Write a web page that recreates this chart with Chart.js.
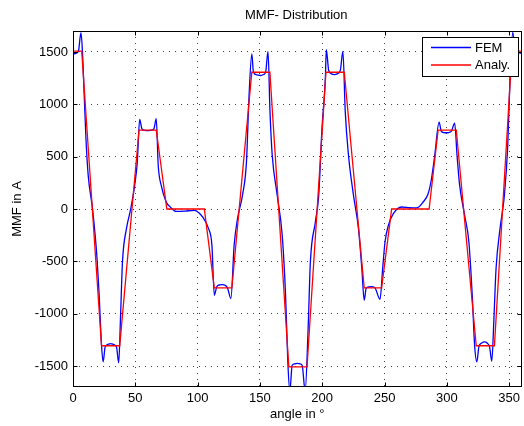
<!DOCTYPE html>
<html>
<head>
<meta charset="utf-8">
<title>MMF- Distribution</title>
<script src="https://cdn.jsdelivr.net/npm/chart.js@4.4.0/dist/chart.umd.min.js"></script>
<style>
  html, body { margin: 0; padding: 0; background: #fff; }
  #wrap { position: relative; width: 524px; height: 426px; }
</style>
</head>
<body>
<div id="wrap"><canvas id="mmf" width="524" height="426"></canvas></div>
<script>
// FEM result, angle in degrees / MMF in A
var femAngle = [0, 2, 4.3, 6.4, 7.6, 9, 10.4, 12.2, 15.7, 18.9, 21, 22.9, 24.2, 25.8, 28, 30.1, 32.5, 34.9, 36.7,
  38.1, 39.7, 42.9, 46.3, 49.5, 51.6, 53.5, 55.3, 57.5, 60.1, 62.5, 64.9, 66.8, 68.4, 70.8, 74.8, 78, 82.8, 90,
  97.4, 101, 104, 108.8, 111.5, 113.4, 115.5, 118, 120, 122, 124, 126.7, 129.3, 132, 136, 139.2, 141.3, 143.5,
  144.8, 147.5, 150.6, 153, 154.6, 156.5, 158.1, 159.9, 163.9, 167.9, 170.6, 172.4, 174, 175.9, 178, 180, 182,
  183.9, 186.3, 188.7, 190.5, 194.5, 197.2, 199.8, 202.5, 203.3, 205.2, 207.5, 209.7, 212, 214.5, 216.6, 218.5,
  221.1, 225.1, 229.1, 231.8, 233.7, 235.2, 237.1, 240, 242.4, 246.4, 248.5, 250.4, 253.1, 257.1, 263.7, 270,
  275.7, 281, 285, 287.7, 290.3, 293.8, 295.6, 297.5, 299.6, 301.5, 303.6, 306.3, 308.2, 310.3, 314.3, 317.7,
  320.4, 322.3, 324.1, 325.7, 328, 330.3, 332.3, 334.3, 336.1, 337.7, 339.5, 342.7, 346.2, 348.9, 350.7, 352.9,
  355, 358.2, 360];
var femValue = [1482, 1485, 1504, 1685, 1500, 1084, 671, 321, 0, -410, -824, -1301, -1460, -1317, -1293, -1285, -1293, -1317, -1470,
  -1047, -506, -188, 0, 225, 448, 855, 766, 752, 748, 752, 766, 862, 416, 225, 67, 20, -23, -20,
  -13, -35, -76, -188, -347, -824, -738, -725, -722, -728, -754, -856, -347, -93, 130, 448, 1084, 1482,
  1307, 1282, 1275, 1285, 1307, 1504, 925, 511, 130, -252, -824, -1460, -1740, -1492, -1478, -1474, -1478,
  -1492, -1740, -1142, -506, -124, 130, 766, 1243, 1523, 1323, 1290, 1284, 1290, 1323, 1504, 925,
  511, 130, -188, -570, -872, -760, -745, -742, -754, -862, -570, -315, -156, -45, 19, 12,
  10, 67, 146, 289, 511, 830, 741, 730, 728, 730, 741, 821, 511, 225, -61, -315,
  -824, -1301, -1460, -1317, -1280, -1269, -1280, -1317, -1454, -1078, -570, -188, 130, 607, 1243, 1690,
  1498, 1491, 1485];

// analytical solution
var anaAngle = [0, 7, 22.9, 37.5, 53, 66.8, 75.3, 105.4, 113.4, 127.5, 143.5, 158, 173.2, 187.8, 203, 217.7,
  233.7, 247.7, 255.7, 285.8, 293, 307.6, 323.6, 338.2, 352.3, 360];
var anaValue = [1508, 1508, -1306, -1306, 754, 754, 0, 0, -754, -754, 1306, 1306, -1508, -1508, 1306, 1306,
  -754, -754, 0, 0, 754, 754, -1306, -1306, 1508, 1508];

var seriesNames = ['FEM', 'Analy.'];
var xTicks = [0, 50, 100, 150, 200, 250, 300, 350];
var yTicks = [-1500, -1000, -500, 0, 500, 1000, 1500];
var xRange = [0, 360];
var yRange = [-1700, 1700];

function toPoints(xs, ys) {
  var pts = [];
  for (var i = 0; i < xs.length; i++) {
    pts.push({ x: xs[i], y: ys[i] });
  }
  return pts;
}

function fixedTicks(list) {
  return function (scale) {
    scale.ticks = list.map(function (v) { return { value: v }; });
  };
}

var FONT = 'Liberation Sans, Arial, Helvetica, sans-serif';

// box, inward ticks, title and legend, drawn the matlab way
var matlabAxes = {
  id: 'matlabAxes',
  afterDraw: function (chart) {
    var ctx = chart.ctx;
    var a = chart.chartArea;
    var l = Math.round(a.left) + 0.5, r = Math.round(a.right) - 0.5;
    var t = Math.round(a.top) + 0.5, b = Math.round(a.bottom) - 0.5;
    var tl = 4;

    ctx.save();
    ctx.strokeStyle = '#000';
    ctx.lineWidth = 1;
    ctx.setLineDash([]);

    ctx.beginPath();
    chart.scales.x.ticks.forEach(function (tk) {
      var px = Math.round(chart.scales.x.getPixelForValue(tk.value)) + 0.5;
      ctx.moveTo(px, b); ctx.lineTo(px, b - tl);
      ctx.moveTo(px, t); ctx.lineTo(px, t + tl);
    });
    chart.scales.y.ticks.forEach(function (tk) {
      var py = Math.round(chart.scales.y.getPixelForValue(tk.value)) + 0.5;
      ctx.moveTo(l, py); ctx.lineTo(l + tl, py);
      ctx.moveTo(r, py); ctx.lineTo(r - tl, py);
    });
    ctx.stroke();

    ctx.strokeRect(l, t, r - l, b - t);

    // title
    ctx.fillStyle = '#000';
    ctx.font = '13px ' + FONT;
    ctx.textAlign = 'center';
    ctx.textBaseline = 'middle';
    ctx.fillText('MMF- Distribution', (a.left + a.right) / 2 - 1, 15);

    // legend box
    var lx = 422.5, ly = 37.5, lw = 96, lh = 39;
    ctx.fillStyle = '#fff';
    ctx.fillRect(lx, ly, lw, lh);
    ctx.strokeStyle = '#000';
    ctx.strokeRect(lx, ly, lw, lh);

    var rows = [47.5, 65];
    chart.data.datasets.forEach(function (ds, i) {
      ctx.strokeStyle = ds.borderColor;
      ctx.lineWidth = 1.3;
      ctx.beginPath();
      ctx.moveTo(431, rows[i]);
      ctx.lineTo(471, rows[i]);
      ctx.stroke();
      ctx.fillStyle = '#000';
      ctx.textAlign = 'left';
      ctx.fillText(ds.label, 475, rows[i] + 0.5);
    });
    ctx.restore();
  }
};

var gridStyle = { color: 'rgba(0,0,0,0.75)', lineWidth: 1, drawTicks: false };
var borderStyle = { display: false, dash: [1, 5] };

new Chart(document.getElementById('mmf'), {
  type: 'line',
  data: {
    datasets: [
      {
        label: seriesNames[0],
        data: toPoints(femAngle, femValue),
        borderColor: '#0000ff',
        borderWidth: 1.3,
        pointRadius: 0,
        cubicInterpolationMode: 'monotone',
        order: 2
      },
      {
        label: seriesNames[1],
        data: toPoints(anaAngle, anaValue),
        borderColor: '#ff0000',
        borderWidth: 1.3,
        pointRadius: 0,
        tension: 0,
        order: 1
      }
    ]
  },
  options: {
    responsive: false,
    animation: false,
    devicePixelRatio: 1,
    layout: { padding: { top: 31, right: 1, left: 0, bottom: 0 } },
    plugins: {
      legend: { display: false },
      title: { display: false },
      tooltip: { enabled: false }
    },
    scales: {
      x: {
        type: 'linear',
        min: xRange[0],
        max: xRange[1],
        grid: gridStyle,
        border: borderStyle,
        afterBuildTicks: fixedTicks(xTicks),
        ticks: {
          padding: 4,
          color: '#000',
          font: { family: FONT, size: 13 },
          maxRotation: 0,
          autoSkip: false
        },
        title: {
          display: true,
          text: 'angle in °',
          color: '#000',
          font: { family: FONT, size: 13 },
          padding: { top: 0, bottom: 4 }
        },
        afterFit: function (scale) { scale.height = 39; }
      },
      y: {
        type: 'linear',
        min: yRange[0],
        max: yRange[1],
        grid: gridStyle,
        border: borderStyle,
        afterBuildTicks: fixedTicks(yTicks),
        ticks: {
          padding: 5,
          color: '#000',
          font: { family: FONT, size: 13 },
          autoSkip: false,
          callback: function (v) { return String(v); }
        },
        title: {
          display: true,
          text: 'MMF in A',
          color: '#000',
          font: { family: FONT, size: 13 },
          padding: { top: 10, bottom: 0 }
        },
        afterFit: function (scale) { scale.width = 73; }
      }
    }
  },
  plugins: [matlabAxes]
});
</script>
</body>
</html>
